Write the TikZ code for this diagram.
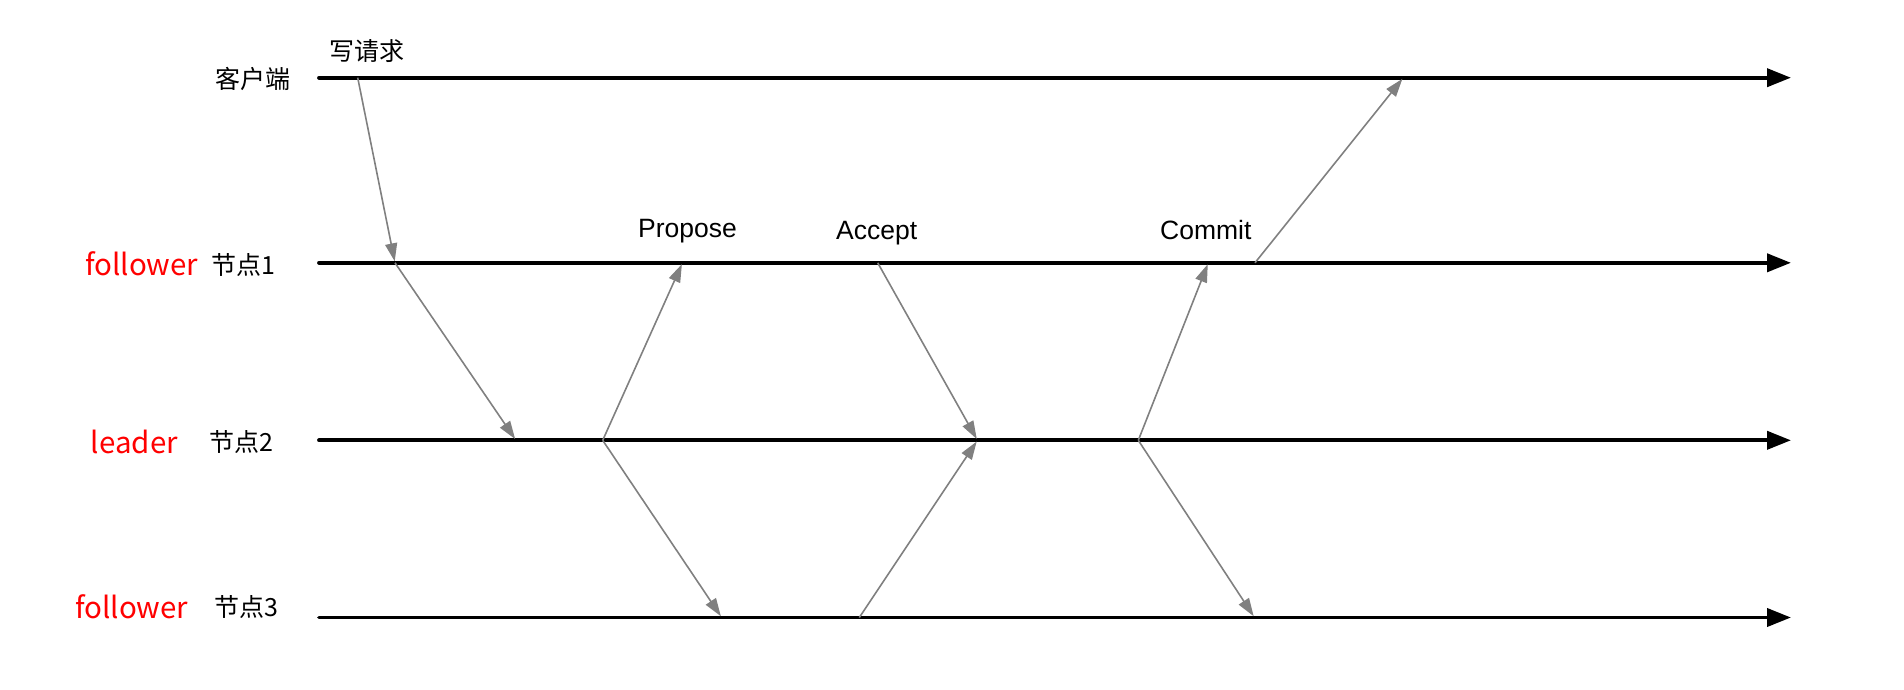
\documentclass[tikz,border=0pt]{standalone}
\usepackage{fontspec}
\setmainfont{Liberation Sans}
\newfontfamily\cjk{Noto Sans CJK SC}
\usetikzlibrary{arrows.meta}
\definecolor{msg}{HTML}{808080}
\definecolor{rolered}{HTML}{FF0000}
\begin{document}
\begin{tikzpicture}[x=1pt,y=-1pt,
  timeline/.style={line width=3.8pt, line cap=round, -{Triangle[length=24pt,width=18pt]}},
  msgarrow/.style={draw=msg, line width=1.6pt, -{Triangle[length=18pt,width=12pt]}, shorten >=1.5pt},
  cjklabel/.style={font=\cjk\fontsize{25}{30}\selectfont, inner sep=0pt, anchor=west},
  rolelabel/.style={font=\cjk\fontsize{29.5}{34}\selectfont, text=rolered, inner sep=0pt, anchor=west},
  phase/.style={font=\fontsize{26.5}{32}\selectfont, inner sep=0pt, anchor=west}]
\useasboundingbox (0,0) rectangle (1904,690);

% timelines
\coordinate (l0s) at (319,77.7);  \coordinate (l0e) at (1791,77.7);
\coordinate (l1s) at (319,262.8); \coordinate (l1e) at (1791,262.8);
\coordinate (l2s) at (319,440.3); \coordinate (l2e) at (1791,440.3);
\coordinate (l3s) at (319,617.5); \coordinate (l3e) at (1791,617.5);
\draw[timeline] (l0s) -- (l0e);
\draw[timeline] (l1s) -- (l1e);
\draw[timeline] (l2s) -- (l2e);
\draw[timeline] (l3s) -- (l3e);

% labels
\node[cjklabel] (client) at (215,79) {客户端};
\node[cjklabel] (req) at (329,51.5) {写请求};
\node[rolelabel] (role1) at (85,264) {follower};
\node[cjklabel] (node1) at (211.7,264.7) {节点1};
\node[rolelabel] (role2) at (90.7,442) {leader};
\node[cjklabel] (node2) at (209,442.3) {节点2};
\node[rolelabel] (role3) at (75,606.5) {follower};
\node[cjklabel] (node3) at (214,607) {节点3};
\node[phase] (propose) at (638,231.5) {Propose};
\node[phase] (accept) at (836,233.3) {Accept};
\node[phase] (commit) at (1160,229.7) {Commit};

% events
\coordinate (c1) at (357.7,77.7);
\coordinate (n1a) at (395,262.8);
\coordinate (n2a) at (516,440.3);
\coordinate (n2b) at (602.7,440.3);
\coordinate (n1b) at (682.5,262.8);
\coordinate (n3a) at (721.7,617.5);
\coordinate (n1c) at (877.7,262.8);
\coordinate (n2c) at (977.5,440.3);
\coordinate (n3b) at (859.3,617.5);
\coordinate (n2d) at (1138.3,440.3);
\coordinate (n1d) at (1208.3,262.8);
\coordinate (n3c) at (1254.5,617.5);
\coordinate (n1e) at (1255,262.8);
\coordinate (c2) at (1403.3,77.7);

% messages
\draw[msgarrow] (c1) -- (n1a);
\draw[msgarrow] (n1a) -- (n2a);
\draw[msgarrow] (n2b) -- (n1b);
\draw[msgarrow] (n2b) -- (n3a);
\draw[msgarrow] (n1c) -- (n2c);
\draw[msgarrow] (n3b) -- (n2c);
\draw[msgarrow] (n2d) -- (n1d);
\draw[msgarrow] (n2d) -- (n3c);
\draw[msgarrow] (n1e) -- (c2);
\end{tikzpicture}
\end{document}
